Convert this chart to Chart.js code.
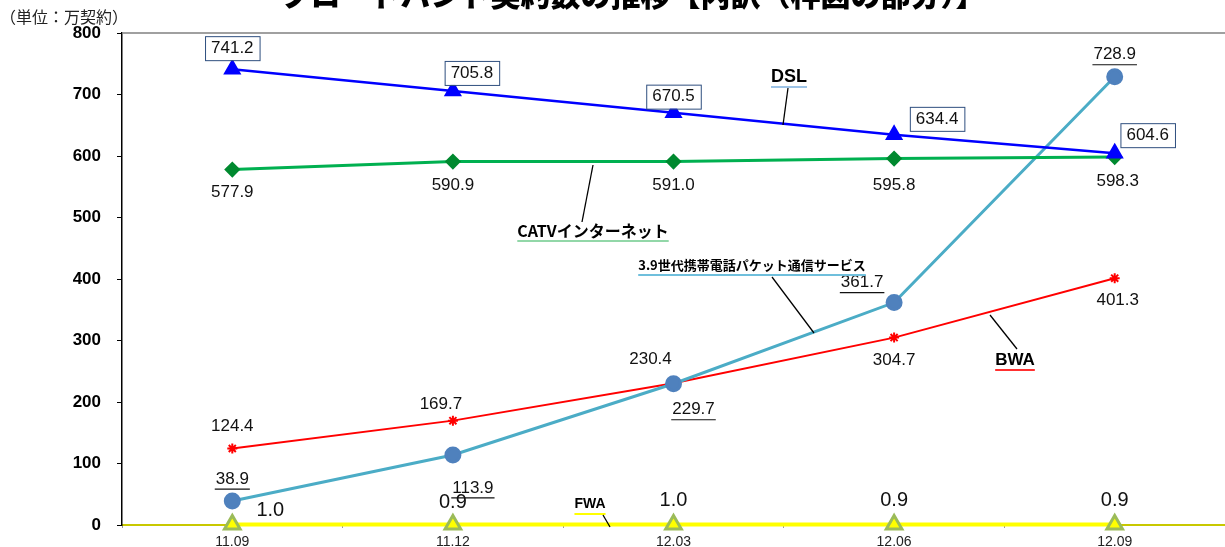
<!DOCTYPE html>
<html>
<head>
<meta charset="utf-8">
<script src="https://cdn.jsdelivr.net/npm/chart.js@4.4.1/dist/chart.umd.min.js"></script>
<style>
  html, body { margin: 0; padding: 0; background: #fff; overflow: hidden; }
  canvas { display: block; }
</style>
</head>
<body>
<canvas id="c" width="1225" height="547"></canvas>
<script>
// categories and series (万契約)
var months = ['11.09', '11.12', '12.03', '12.06', '12.09'];
var dsl = [741.2, 705.8, 670.5, 634.4, 604.6];
var catv = [577.9, 590.9, 591.0, 595.8, 598.3];
var lte = [38.9, 113.9, 229.7, 361.7, 728.9];
var bwa = [124.4, 169.7, 230.4, 304.7, 401.3];
var fwa = [1.0, 0.9, 1.0, 0.9, 0.9];
var yTicks = [0, 100, 200, 300, 400, 500, 600, 700, 800];

var NUM = '"Liberation Sans", Arial, sans-serif';
var JP = '"Noto Sans CJK JP", sans-serif';

// label placement (pixel offsets from each point)
var labelStyle = [
    { data: dsl, box: true, font: '17px ' + NUM, off: [[0,-21],[19,-18],[0,-16],[43,-16],[33,-18]] },
    { data: catv, font: '17px ' + NUM, off: [[0,23],[0,24],[0,24],[0,27],[3,24]] },
    { data: lte, underline: true, font: '17px ' + NUM, off: [[0,-22],[20,33],[20,26],[-32,-20],[0,-22]] },
    { data: bwa, font: '17px ' + NUM, off: [[0,-22],[-12,-16],[-23,-24],[0,23],[3,22]] },
    { data: fwa, font: '20px ' + NUM, off: [[38,-14],[0,-22],[0,-24],[0,-24],[0,-24]] }
];

// series name callouts: text, text pos, underline colour, leader line
var callouts = [
    { text: 'DSL', font: 'bold 18px ' + NUM, x: 789, y: 77, ul: '#9dc3e6', line: [788, 88, 783, 125] },
    { text: 'CATVインターネット', font: 'bold 16px ' + JP, x: 593, y: 231, ul: '#92d7a8', line: [593, 165, 582, 222] },
    { text: '3.9世代携帯電話パケット通信サービス', font: 'bold 13px ' + JP, x: 752, y: 265, ul: '#6fbfdc', line: [772, 277, 814, 333] },
    { text: 'BWA', font: 'bold 17px ' + NUM, x: 1015, y: 360, ul: '#ff3030', line: [990, 315, 1017, 349] },
    { text: 'FWA', font: 'bold 14px ' + NUM, x: 590, y: 504, ul: '#ffff00', line: [603, 515, 610, 527] }
];

var annotate = {
    id: 'annotate',
    afterDatasetsDraw: function (chart) {
        var ctx = chart.ctx;
        var xs = chart.scales.x, ys = chart.scales.y;
        var area = chart.chartArea;
        ctx.save();

        // title (top half falls outside the picture)
        ctx.fillStyle = '#000';
        ctx.font = '900 30px ' + JP;
        ctx.textAlign = 'center';
        ctx.textBaseline = 'alphabetic';
        ctx.fillText('ブロードバンド契約数の推移【内訳（枠図の部分）】', 633, 6);

        // unit
        ctx.font = '16px ' + JP;
        ctx.textAlign = 'left';
        ctx.textBaseline = 'middle';
        ctx.fillStyle = '#222';
        ctx.fillText('（単位：万契約）', 0, 17);

        // top border
        ctx.strokeStyle = '#808080';
        ctx.lineWidth = 1.5;
        ctx.beginPath();
        ctx.moveTo(area.left, area.top);
        ctx.lineTo(area.right, area.top);
        ctx.stroke();

        // value labels
        labelStyle.forEach(function (s) {
            s.data.forEach(function (v, i) {
                var px = xs.getPixelForValue(i) + s.off[i][0];
                var py = ys.getPixelForValue(v) + s.off[i][1];
                var t = v.toFixed(1);
                ctx.font = s.font;
                ctx.textAlign = 'center';
                ctx.textBaseline = 'middle';
                var w = ctx.measureText(t).width;
                if (s.box) {
                    ctx.fillStyle = '#fff';
                    ctx.fillRect(px - w / 2 - 6, py - 12, w + 12, 24);
                    ctx.strokeStyle = '#2f4f7f';
                    ctx.lineWidth = 1;
                    ctx.strokeRect(px - w / 2 - 6 + 0.5, py - 12 + 0.5, w + 12, 24);
                }
                ctx.fillStyle = '#111';
                ctx.fillText(t, px, py);
                if (s.underline) {
                    ctx.strokeStyle = '#111';
                    ctx.lineWidth = 1.2;
                    ctx.beginPath();
                    ctx.moveTo(px - w / 2 - 1, py + 10);
                    ctx.lineTo(px + w / 2 + 1, py + 10);
                    ctx.stroke();
                }
            });
        });

        // callouts
        callouts.forEach(function (c) {
            ctx.font = c.font;
            ctx.textAlign = 'center';
            ctx.textBaseline = 'middle';
            var w = ctx.measureText(c.text).width;
            ctx.strokeStyle = c.ul;
            ctx.lineWidth = 2;
            ctx.beginPath();
            ctx.moveTo(c.x - w / 2, c.y + 10);
            ctx.lineTo(c.x + w / 2, c.y + 10);
            ctx.stroke();
            ctx.fillStyle = '#000';
            ctx.fillText(c.text, c.x, c.y);
            ctx.strokeStyle = '#000';
            ctx.lineWidth = 1.3;
            ctx.beginPath();
            ctx.moveTo(c.line[0], c.line[1]);
            ctx.lineTo(c.line[2], c.line[3]);
            ctx.stroke();
        });
        ctx.restore();
    }
};

new Chart(document.getElementById('c'), {
    type: 'line',
    data: {
        labels: months,
        datasets: [
            { label: 'FWA', data: fwa, borderColor: '#ffff00', borderWidth: 4, pointStyle: 'triangle',
              pointRadius: 9, pointBackgroundColor: '#ffff00', pointBorderColor: '#9bbb59', pointBorderWidth: 3, order: 5 },
            { label: 'BWA', data: bwa, borderColor: '#ff0000', borderWidth: 2, pointStyle: 'star',
              pointRadius: 5, pointBorderColor: '#ff0000', pointBorderWidth: 2, order: 4 },
            { label: '3.9世代携帯電話パケット通信サービス', data: lte, borderColor: '#4bacc6', borderWidth: 3,
              pointStyle: 'circle', pointRadius: 7, pointBackgroundColor: '#4f81bd', pointBorderColor: '#4f81bd', order: 3 },
            { label: 'CATVインターネット', data: catv, borderColor: '#00b050', borderWidth: 3, pointStyle: 'rectRot',
              pointRadius: 6, pointBackgroundColor: '#00892f', pointBorderColor: '#00892f', order: 2 },
            { label: 'DSL', data: dsl, borderColor: '#0000ff', borderWidth: 2.5, pointStyle: 'triangle',
              pointRadius: 8, pointBackgroundColor: '#0000ff', pointBorderColor: '#0000ff', order: 1 }
        ]
    },
    options: {
        responsive: false,
        animation: false,
        clip: false,
        layout: { autoPadding: false, padding: { top: 33, left: 0, right: 0, bottom: 0 } },
        plugins: { legend: { display: false }, tooltip: { enabled: false } },
        scales: {
            x: {
                offset: true,
                afterFit: function (s) { s.height = 22; s.paddingLeft = 0; s.paddingRight = 0; },
                grid: { drawOnChartArea: false, offset: true, tickLength: 3, color: '#999' },
                border: { color: '#c8c800', width: 2 },
                ticks: { color: '#222', font: { family: NUM, size: 14 }, padding: 6, maxRotation: 0 }
            },
            y: {
                min: 0,
                max: 800,
                afterFit: function (s) { s.width = 122; s.paddingBottom = 0; s.paddingTop = 0; },
                afterBuildTicks: function (s) { s.ticks = yTicks.map(function (v) { return { value: v }; }); },
                grid: { drawOnChartArea: false, tickLength: 5, color: '#000' },
                border: { color: '#000', width: 1.5 },
                ticks: { color: '#000', font: { family: NUM, size: 17, weight: 'bold' }, padding: 16 }
            }
        }
    },
    plugins: [annotate]
});
</script>
</body>
</html>
